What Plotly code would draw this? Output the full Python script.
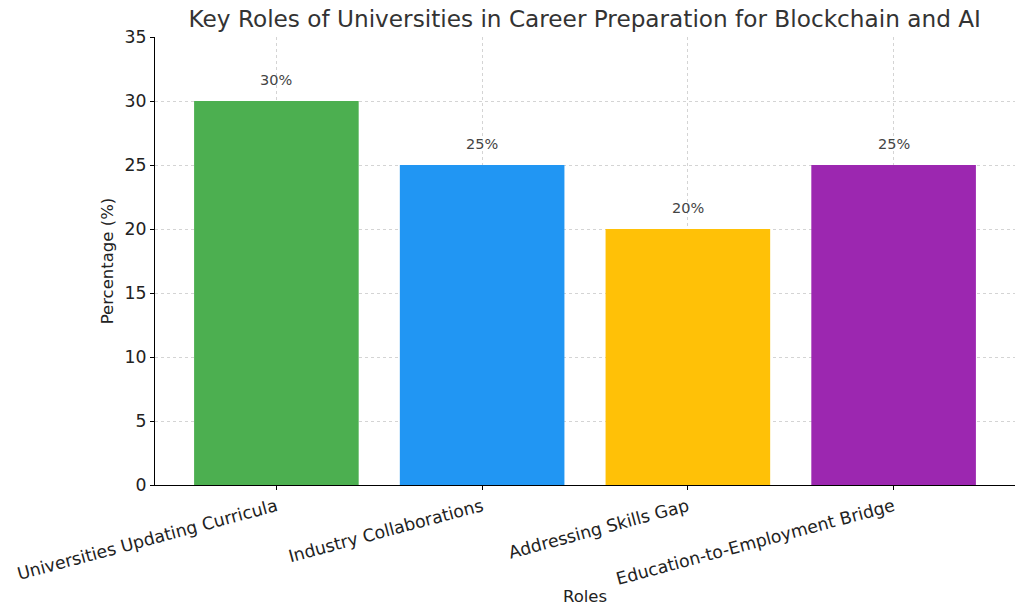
import plotly.graph_objects as go

# datos
roles = ["Universities Updating Curricula", "Industry Collaborations",
         "Addressing Skills Gap", "Education-to-Employment Bridge"]
porcentajes = [30, 25, 20, 25]
colores = ["#4CAF50", "#2196F3", "#FFC107", "#9C27B0"]

fig = go.Figure(go.Bar(
    x=roles,
    y=porcentajes,
    marker=dict(color=colores, line=dict(width=0)),
    width=0.8,
    showlegend=False,
))

# etiquetas encima de cada barra
for r, p in zip(roles, porcentajes):
    fig.add_annotation(x=r, y=p, text=f"{p}%", showarrow=False,
                       yshift=21, font=dict(size=14.5, color="#444444"))

eje = dict(
    showline=True, linecolor="black", linewidth=1.2,
    ticks="outside", ticklen=4, tickcolor="black",
    showgrid=True, gridcolor="#d4d4d4", griddash="3px,3px", gridwidth=1,
    layer="above traces", zeroline=False, automargin=False,
    tickfont=dict(size=17.3, color="#222222"),
)

fig.update_layout(
    width=1024, height=615,
    paper_bgcolor="white", plot_bgcolor="white",
    font=dict(family="DejaVu Sans", color="#222222"),
    title=dict(text="Key Roles of Universities in Career Preparation for Blockchain and AI",
               x=0.571, xanchor="center", y=0.970, yanchor="middle",
               font=dict(size=23.2, color="#333333")),
    margin=dict(l=155, r=9, t=37, b=130),
    xaxis=dict(eje, range=[-0.59, 3.59], tickangle=-15,
               title=dict(text="Roles", font=dict(size=16.5), standoff=2)),
    yaxis=dict(eje, range=[0, 35], dtick=5,
               title=dict(text="Percentage (%)", font=dict(size=16.5), standoff=6)),
)

# quitar el margen por defecto del <body> para que la figura empiece en (0,0)
fig.write_html("out.html", config={"displayModeBar": False},
               post_script="document.body.style.margin='0';")
